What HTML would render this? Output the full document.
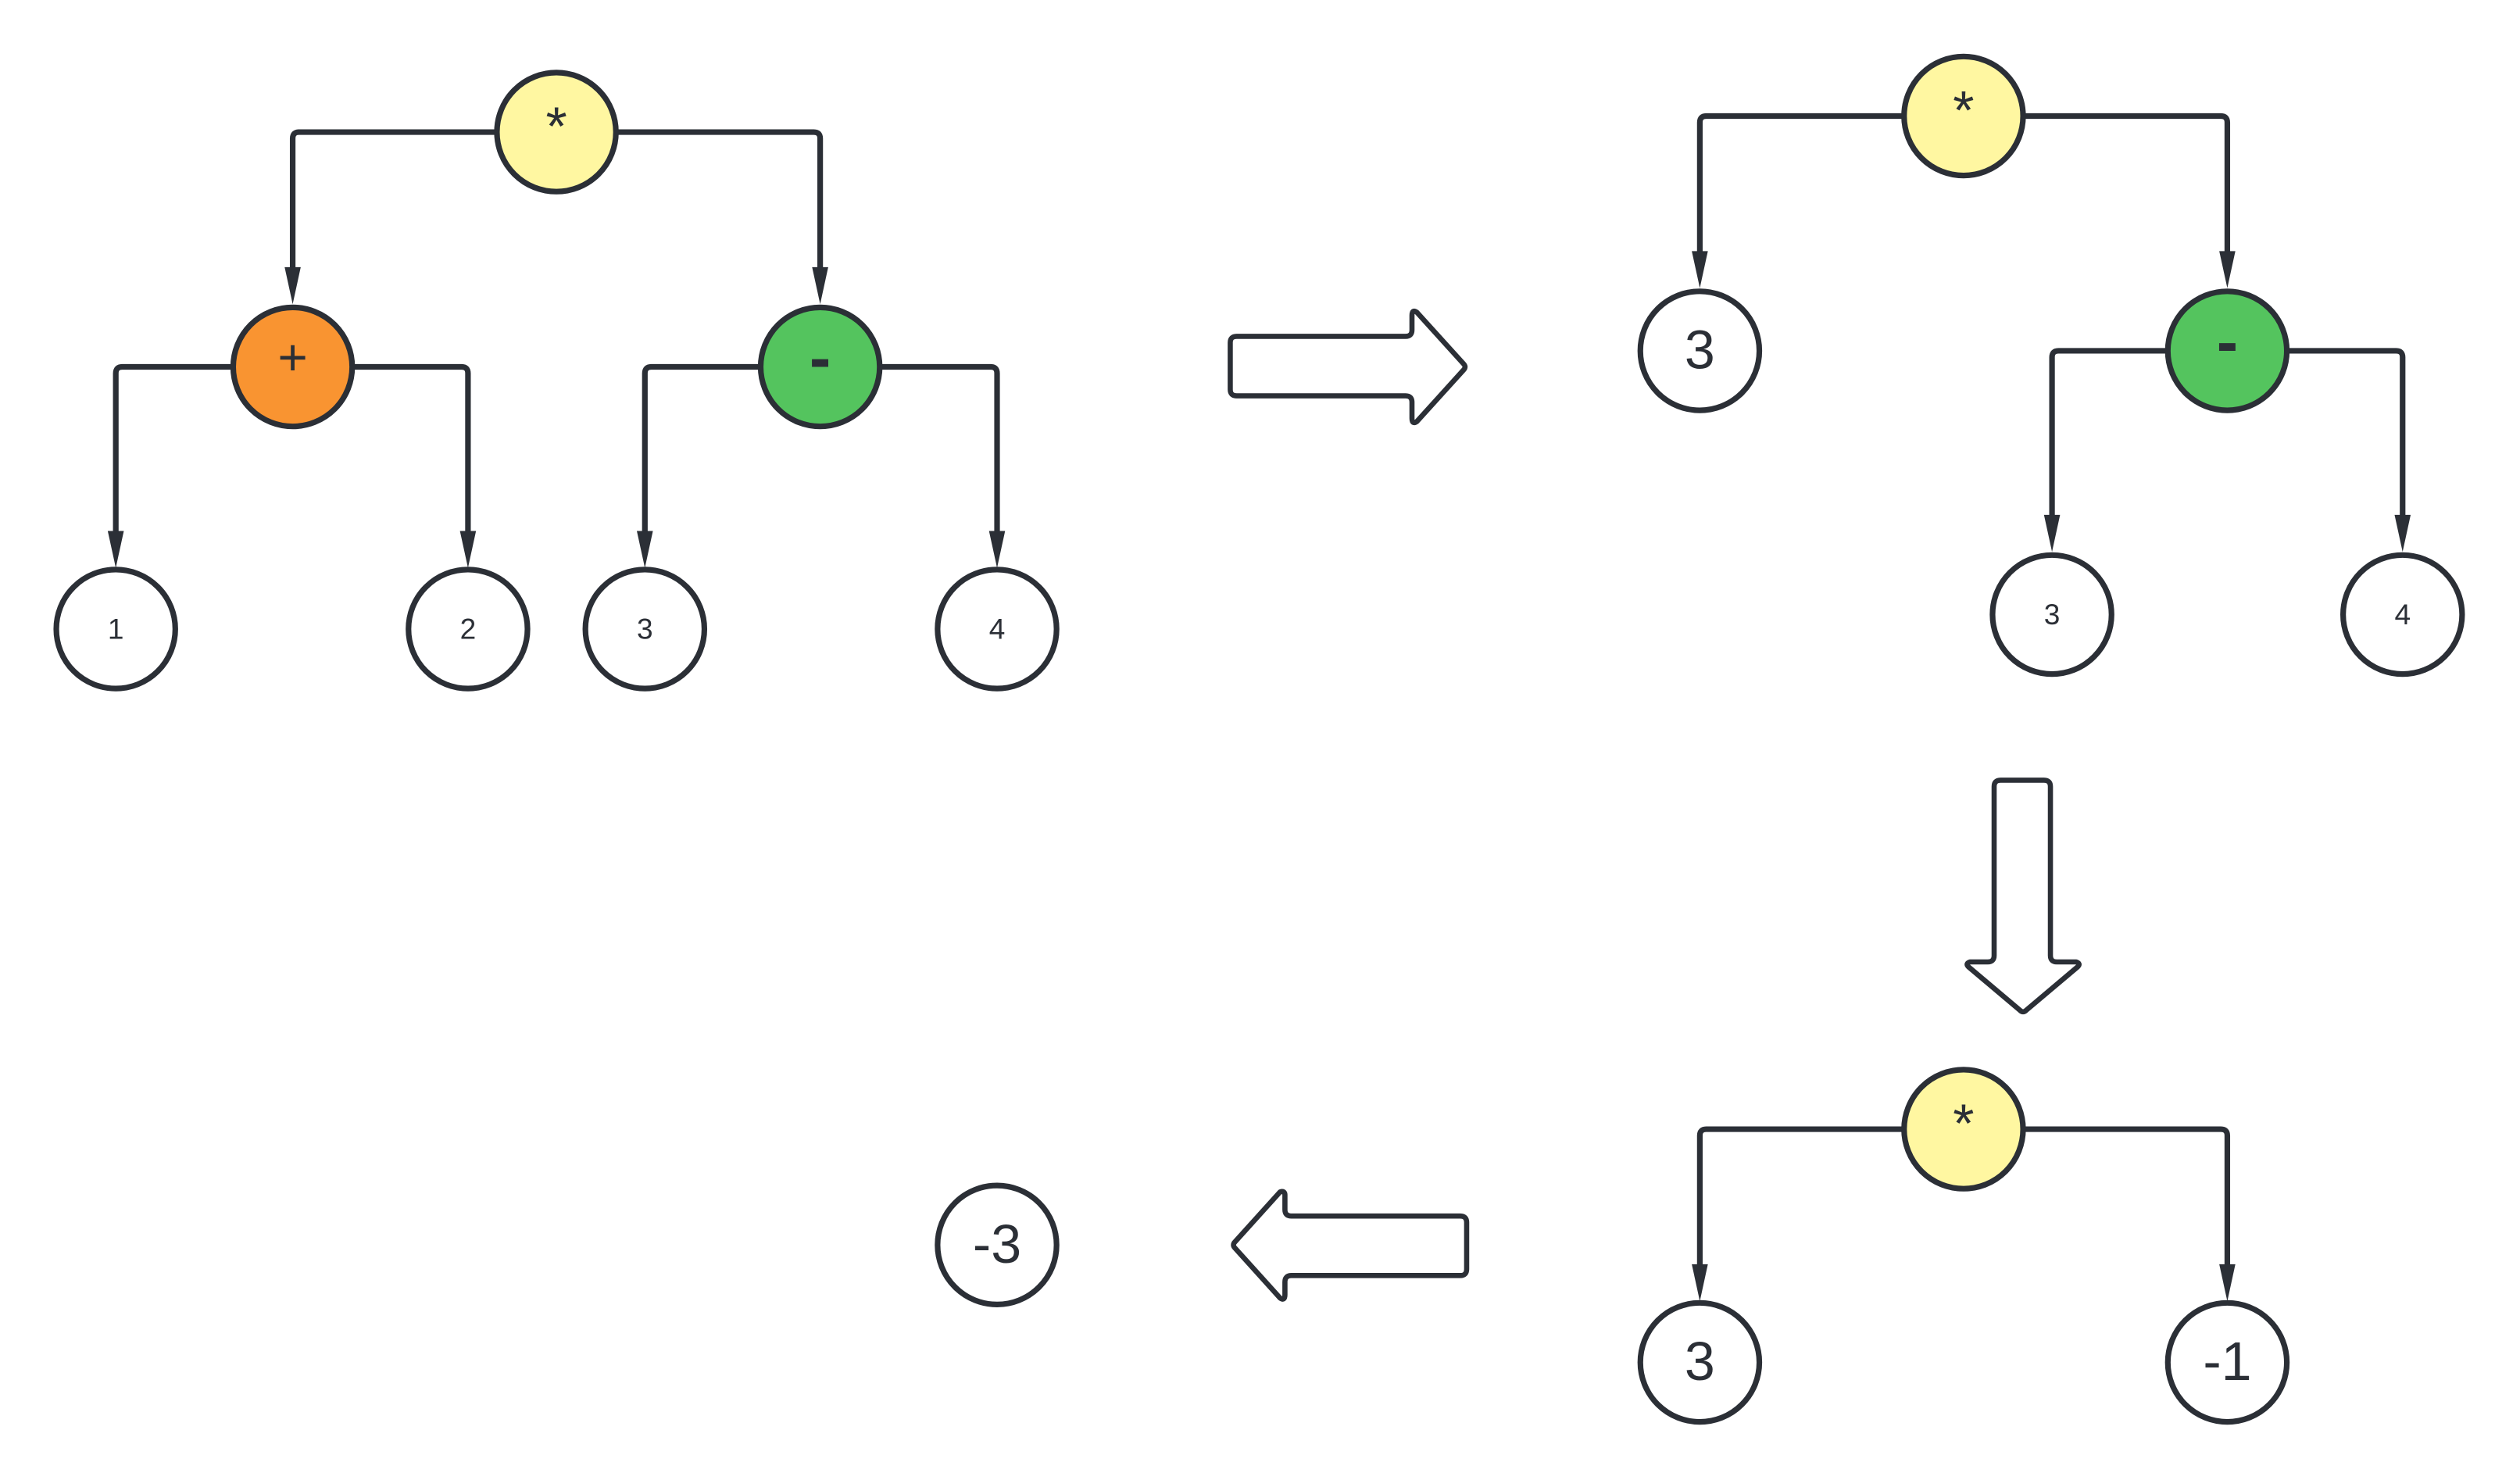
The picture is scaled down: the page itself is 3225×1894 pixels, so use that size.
<!DOCTYPE html>
<html><head><meta charset="utf-8"><style>html,body{margin:0;padding:0;background:#fff}svg{display:block}</style></head>
<body>
<svg width="3225" height="1894" viewBox="0 0 1567 920" xmlns="http://www.w3.org/2000/svg" font-family="Liberation Sans, sans-serif">
<g fill="none" stroke="#2B2F36" stroke-width="3.5" stroke-linejoin="round">
<path d="M309 82 H186 Q182 82 182 86 V170"/>
<path d="M383 82 H506 Q510 82 510 86 V170"/>
<path d="M145 228 H76 Q72 228 72 232 V334"/>
<path d="M219 228 H287 Q291 228 291 232 V334"/>
<path d="M473 228 H405 Q401 228 401 232 V334"/>
<path d="M547 228 H616 Q620 228 620 232 V334"/>
<path d="M1184 72 H1061 Q1057 72 1057 76 V160"/>
<path d="M1258 72 H1381 Q1385 72 1385 76 V160"/>
<path d="M1348 218 H1280 Q1276 218 1276 222 V324"/>
<path d="M1422 218 H1490 Q1494 218 1494 222 V324"/>
<path d="M1184 702 H1061 Q1057 702 1057 706 V790"/>
<path d="M1258 702 H1381 Q1385 702 1385 706 V790"/>
<path d="M769 209 H874 Q878 209 878 205 V196 Q878 192 881 194 L910 226 Q912 228 910 230 L881 262 Q878 264 878 260 V250 Q878 246 874 246 H769 Q765 246 765 242 V213 Q765 209 769 209 Z" stroke-width="3.2"/>
<path d="M1244 485 H1271 Q1275 485 1275 489 V594 Q1275 598 1279 598 H1291 Q1294 599 1292 601 L1260 628 Q1258 630 1256 628 L1224 601 Q1222 599 1225 598 H1236 Q1240 598 1240 594 V489 Q1240 485 1244 485 Z" stroke-width="3.2"/>
<path d="M908 756 H803 Q799 756 799 752 V743 Q799 740 796 741 L768 772 Q766 774 768 776 L796 807 Q799 809 799 805 V797 Q799 793 803 793 H908 Q912 793 912 789 V760 Q912 756 908 756 Z" stroke-width="3.2"/>
</g>
<g fill="#2B2F36">
<path d="M177 166 H187 L182 189 Z"/><path d="M505 166 H515 L510 189 Z"/>
<path d="M67 330 H77 L72 353 Z"/><path d="M286 330 H296 L291 353 Z"/>
<path d="M396 330 H406 L401 353 Z"/><path d="M615 330 H625 L620 353 Z"/>
<path d="M1052 156 H1062 L1057 179 Z"/><path d="M1380 156 H1390 L1385 179 Z"/>
<path d="M1271 320 H1281 L1276 343 Z"/><path d="M1489 320 H1499 L1494 343 Z"/>
<path d="M1052 786 H1062 L1057 809 Z"/><path d="M1380 786 H1390 L1385 809 Z"/>
</g>
<g stroke="#2B2F36" stroke-width="3.5">
<circle cx="346" cy="82" r="37" fill="#FFF7A1"/>
<circle cx="182" cy="228" r="37" fill="#F99431"/>
<circle cx="510" cy="228" r="37" fill="#54C45E"/>
<circle cx="72" cy="391" r="37" fill="#fff"/>
<circle cx="291" cy="391" r="37" fill="#fff"/>
<circle cx="401" cy="391" r="37" fill="#fff"/>
<circle cx="620" cy="391" r="37" fill="#fff"/>
<circle cx="1221" cy="72" r="37" fill="#FFF7A1"/>
<circle cx="1057" cy="218" r="37" fill="#fff"/>
<circle cx="1385" cy="218" r="37" fill="#54C45E"/>
<circle cx="1276" cy="382" r="37" fill="#fff"/>
<circle cx="1494" cy="382" r="37" fill="#fff"/>
<circle cx="1221" cy="702" r="37" fill="#FFF7A1"/>
<circle cx="1057" cy="847" r="37" fill="#fff"/>
<circle cx="1385" cy="847" r="37" fill="#fff"/>
<circle cx="620" cy="774" r="37" fill="#fff"/>
</g>
<g fill="#2B2F36" text-anchor="middle">
<text x="346" y="90" font-size="34">*</text>
<text x="182" y="233" font-size="32">+</text>
<text x="510" y="236" font-size="40" font-weight="bold">-</text>
<text x="72" y="397" font-size="18">1</text>
<text x="291" y="397" font-size="18">2</text>
<text x="401" y="397" font-size="18">3</text>
<text x="620" y="397" font-size="18">4</text>
<text x="1221" y="80" font-size="34">*</text>
<text x="1057" y="229" font-size="34">3</text>
<text x="1385" y="226" font-size="40" font-weight="bold">-</text>
<text x="1276" y="388" font-size="18">3</text>
<text x="1494" y="388" font-size="18">4</text>
<text x="1221" y="710" font-size="34">*</text>
<text x="1057" y="858" font-size="34">3</text>
<text x="1385" y="858" font-size="34">-1</text>
<text x="620" y="785" font-size="34">-3</text>
</g>
</svg>
</body></html>
